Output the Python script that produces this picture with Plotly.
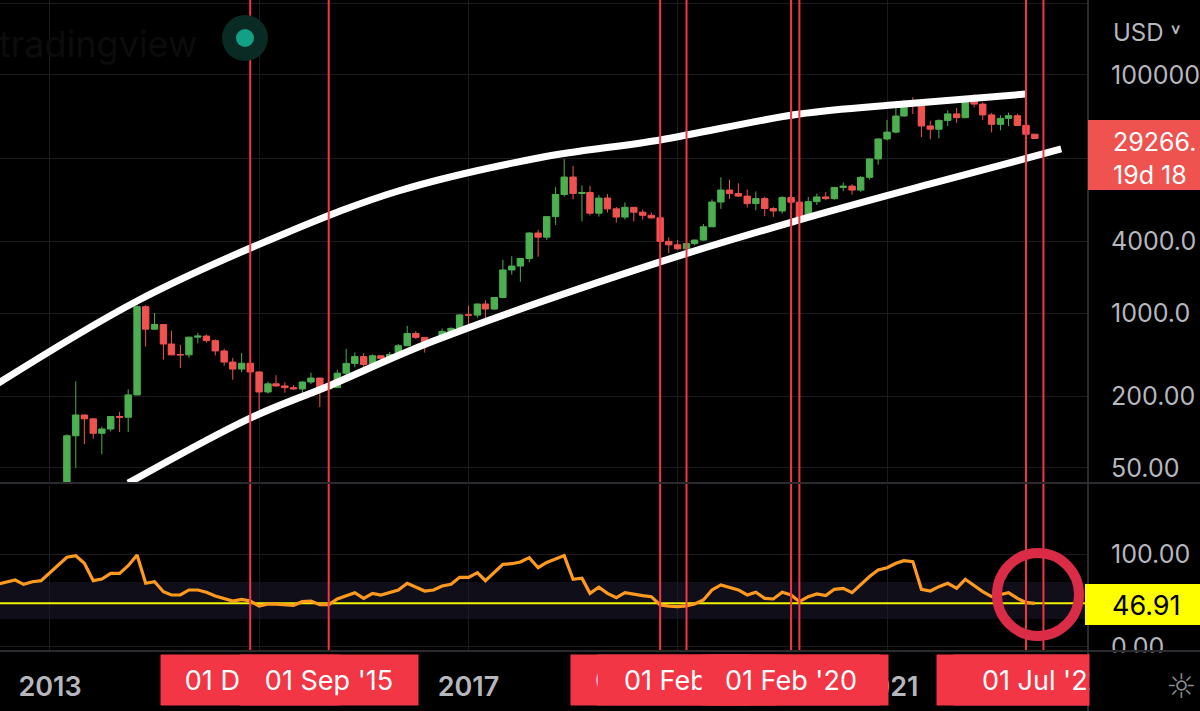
import plotly.graph_objects as go
import pandas as pd

# ---------------- data (monthly BTC/USD) ----------------
months = pd.date_range("2012-07-01", "2022-06-01", freq="MS").strftime("%Y-%m-%d").tolist()

opens = [6.65, 9.35, 10.15, 12.4, 11.2, 12.55,
         13.5, 20.4, 33.4, 93.0, 139, 129, 97.5, 106, 135, 133, 205, 1130,
         732, 800, 549, 448, 445, 627, 640, 586, 480, 387, 338, 378,
         320, 217, 254, 244, 236, 230, 263, 284, 230, 236, 312, 377,
         430, 369, 437, 416, 448, 531, 673, 624, 573, 608, 700, 743,
         964, 960, 1190, 1080, 1350, 2300, 2480, 2870, 4700, 4340, 6450, 9900,
         13880, 10100, 10300, 6900, 9240, 7500, 6400, 7730, 7030, 6620, 6300, 4000,
         3740, 3460, 3830, 4100, 5300, 8560, 10800, 10080, 9600, 8300, 9150, 7550,
         7200, 9350, 8540, 6400, 8630, 9450, 9140, 11350, 11650, 10780, 13800, 19700,
         28990, 33110, 45200, 58800, 57700, 37300, 35000, 41500, 47100, 43800, 61300, 56900,
         46200, 38500, 43200, 45500, 37700, 31800]
highs = [9.65, 15.4, 12.95, 12.95, 12.6, 13.9,
         20.9, 33.5, 95.7, 266, 139.9, 129.5, 111, 136, 148, 228, 1163, 1163,
         1000, 810, 710, 540, 630, 680, 660, 600, 500, 420, 460, 380,
         320, 265, 300, 262, 248, 268, 315, 285, 245, 334, 500, 465,
         460, 448, 440, 470, 550, 780, 704, 626, 628, 740, 756, 980,
         1150, 1200, 1280, 1350, 2800, 3000, 2900, 4760, 5000, 6470, 11400, 19670,
         17200, 11800, 11700, 9800, 10000, 7780, 8500, 7750, 7400, 7000, 6550, 4320,
         4100, 4200, 4140, 5600, 9000, 13800, 13200, 12300, 10900, 10500, 9500, 7750,
         9580, 10500, 9200, 9450, 10080, 10400, 11450, 12480, 12080, 14100, 19850, 29300,
         41950, 58350, 61780, 64900, 59600, 41300, 42400, 50500, 52900, 67000, 69000, 59000,
         47900, 45800, 48200, 47400, 40000, 31900]
lows = [6.6, 7.1, 9.95, 9.85, 10.0, 12.3,
        13.2, 19.1, 33.1, 50, 79, 88, 65, 101, 100, 100, 203, 522,
        725, 405, 442, 345, 420, 555, 565, 440, 360, 275, 318, 310,
        152, 210, 240, 214, 228, 208, 253, 162, 225, 235, 300, 350,
        350, 365, 400, 412, 436, 525, 606, 465, 570, 604, 680, 740,
        750, 915, 890, 1060, 1330, 2100, 1830, 2670, 2970, 4110, 5500, 9500,
        9000, 5900, 6600, 6450, 7000, 5760, 6100, 5880, 6100, 6200, 3500, 3200,
        3400, 3400, 3700, 4050, 5300, 7500, 9100, 9400, 7700, 7300, 6500, 6430,
        6850, 8450, 3850, 6150, 8100, 8850, 8950, 10550, 9880, 10400, 13200, 17600,
        28130, 32300, 45000, 47000, 30000, 28800, 29300, 37300, 39600, 43300, 53400, 42000,
        32900, 34300, 37200, 37700, 26700, 28900]
closes = [9.35, 10.15, 12.4, 11.2, 12.55, 13.5,
          20.4, 33.4, 93.0, 139, 129, 97.5, 106, 135, 133, 205, 1130, 732,
          800, 549, 445, 445, 627, 640, 586, 480, 387, 338, 378, 320,
          217, 254, 244, 236, 230, 263, 284, 230, 236, 312, 377, 430,
          369, 437, 416, 448, 531, 673, 624, 573, 608, 700, 743, 964,
          960, 1190, 1080, 1350, 2300, 2480, 2870, 4700, 4340, 6450, 9900, 13880,
          10100, 10300, 6900, 9240, 7500, 6400, 7730, 7030, 6620, 6300, 4000, 3740,
          3460, 3830, 4100, 5300, 8560, 10800, 10080, 9600, 8300, 9150, 7550, 7200,
          9350, 8540, 6400, 8630, 9450, 9140, 11350, 11650, 10780, 13800, 19700, 28990,
          33110, 45200, 58800, 57700, 37300, 35000, 41500, 47100, 43800, 61300, 56900, 46200,
          38500, 43200, 45500, 37700, 31800, 29266]

rsi = [67.5, 70.0, 72.0, 67.4, 70.2, 71.3,
       80.0, 87.6, 96.5, 98.2, 90.0, 71.3, 73.1, 79.2, 79.2, 87.4, 99.0, 68.5,
       70.2, 59.4, 55.9, 55.9, 61.3, 61.3, 58.8, 54.8, 51.6, 49.4, 51.2, 49.4,
       44.0, 46.2, 46.0, 45.2, 44.8, 48.7, 49.4, 45.5, 45.5, 51.6, 55.0, 58.4,
       52.3, 57.7, 55.9, 58.4, 61.3, 68.5, 64.2, 60.2, 61.3, 65.6, 67.4, 74.9,
       74.9, 80.0, 71.3, 80.0, 88.9, 89.6, 91.4, 96.1, 85.3, 91.0, 94.5, 98.3,
       72.8, 73.9, 57.7, 64.2, 57.7, 53.1, 58.4, 56.6, 55.3, 54.1, 45.2, 44.0,
       43.4, 44.1, 46.2, 50.5, 61.3, 66.7, 64.2, 61.3, 55.9, 58.8, 52.3, 51.6,
       58.8, 55.9, 48.7, 54.1, 57.0, 55.2, 62.0, 63.1, 58.4, 66.7, 75.7, 82.8,
       85.3, 90.0, 92.9, 91.8, 62.0, 60.2, 64.9, 68.5, 63.1, 72.8, 66.0, 59.5,
       54.1, 56.0, 58.4, 52.3, 48.0, 46.91]

# hand-drawn channel (date, price)
upper_dates = ["2012-05-01", "2013-11-01", "2015-04-01", "2016-05-01", "2017-09-01",
               "2018-11-01", "2020-03-01", "2021-03-01", "2022-05-01"]
upper_prices = [205, 1262, 4656, 10600, 20070, 28460, 46980, 57020, 69220]
lower_dates = ["2013-10-01", "2014-12-01", "2015-09-01", "2016-09-01", "2018-11-01",
               "2020-03-01", "2021-06-01", "2022-09-01"]
lower_prices = [37.2, 131, 244, 582, 2687, 6050, 12140, 23890]

# vertical markers and their time-axis labels (drawing order = stacking order)
event_dates = ["2014-12-01", "2015-09-01", "2018-11-01", "2019-02-01",
               "2020-03-01", "2020-02-01", "2022-05-01", "2022-07-01"]
event_labels = ["01 Dec '14", "01 Sep '15", "01 Nov '18", "01 Feb '19",
                "01 Mar '20", "01 Feb '20", "01 May '22", "01 Jul '22"]

year_ticks = ["2013-01-01", "2015-01-01", "2017-01-01", "2019-01-01", "2021-01-01"]
year_labels = ["2013", "2015", "2017", "2019", "2021"]

# right-hand price scale (labels are cut by the screen edge in the original)
price_ticks = [50, 200, 1000, 4000, 20000, 100000, 400000]
price_labels = ["50.00", "200.00", "1000.0", "4000.0", "20000.", "100000", ""]

last_price_text = "29266.<br>19d 18"

# ---------------- styling ----------------
W, H = 1200, 711
XD = 1088 / W
def px(x): return x / W
def py(y): return 1 - y / H

GREEN = "#4caf50"
RED = "#ef5350"
GRID = "#1c1c20"
AXTXT = "#b6b7bd"
FONT = "Inter"

fig = go.Figure()

fig.add_trace(go.Candlestick(
    x=months, open=opens, high=highs, low=lows, close=closes,
    increasing=dict(line=dict(color=GREEN, width=1), fillcolor=GREEN),
    decreasing=dict(line=dict(color=RED, width=1), fillcolor=RED),
    whiskerwidth=0, showlegend=False, hoverinfo="skip", xaxis="x", yaxis="y"))

for dts, prs in ((upper_dates, upper_prices), (lower_dates, lower_prices)):
    fig.add_trace(go.Scatter(x=dts, y=prs, mode="lines",
                             line=dict(color="white", width=7, shape="spline", smoothing=1.0),
                             showlegend=False, hoverinfo="skip", xaxis="x", yaxis="y"))

x_start, x_end = "2012-07-10 12:00", "2022-12-03 12:00"

fig.add_trace(go.Scatter(x=[x_start, x_end], y=[rsi[-1], rsi[-1]], mode="lines",
                         line=dict(color="#f2f200", width=2), showlegend=False,
                         hoverinfo="skip", xaxis="x2", yaxis="y2"))
fig.add_trace(go.Scatter(x=months, y=rsi, mode="lines",
                         line=dict(color="#ff9a1f", width=3.2), showlegend=False,
                         hoverinfo="skip", xaxis="x2", yaxis="y2"))

shapes = []
shapes.append(dict(type="rect", xref="paper", yref="y2", x0=0, x1=XD, y0=30, y1=70,
                   fillcolor="#100e19", line=dict(width=0), layer="below"))
for d in event_dates:
    shapes.append(dict(type="line", xref="x", yref="paper", x0=d, x1=d, y0=py(651), y1=1,
                       line=dict(color="#f23645", width=2), layer="above"))
sep = "#2a2a2f"
shapes.append(dict(type="line", xref="paper", yref="paper", x0=0, x1=1, y0=py(483), y1=py(483),
                   line=dict(color=sep, width=2), layer="above"))
shapes.append(dict(type="line", xref="paper", yref="paper", x0=0, x1=1, y0=py(651), y1=py(651),
                   line=dict(color=sep, width=2), layer="above"))
shapes.append(dict(type="line", xref="paper", yref="paper", x0=XD, x1=XD, y0=0, y1=1,
                   line=dict(color=sep, width=2), layer="above"))
shapes.append(dict(type="rect", xref="paper", yref="paper", x0=px(1088), x1=1,
                   y0=py(190), y1=py(120), fillcolor=RED, line=dict(width=0), layer="above"))
shapes.append(dict(type="rect", xref="paper", yref="paper", x0=px(1085), x1=1,
                   y0=py(625), y1=py(584), fillcolor="#ffff00", line=dict(width=0), layer="above"))
shapes.append(dict(type="circle", xref="paper", yref="paper", x0=px(997), x1=px(1079),
                   y0=py(636), y1=py(553), line=dict(color="#da2c47", width=10), layer="above"))
shapes.append(dict(type="circle", xref="paper", yref="paper", x0=px(222), x1=px(268),
                   y0=py(61), y1=py(15), fillcolor="#0a2a24", line=dict(width=0), layer="above"))
shapes.append(dict(type="circle", xref="paper", yref="paper", x0=px(236), x1=px(254),
                   y0=py(47), y1=py(29), fillcolor="#14a084", line=dict(width=0), layer="above"))

annotations = []
annotations.append(dict(text="tradingview", x=px(-3), y=py(44), xref="paper", yref="paper",
                        xanchor="left", yanchor="middle", showarrow=False,
                        font=dict(family=FONT, size=36, color="#0c0c0c")))
for d, t in zip(event_dates, event_labels):
    annotations.append(dict(text=t, x=d, xref="x2", y=py(680), yref="paper",
                            xanchor="center", yanchor="middle", showarrow=False,
                            width=170, height=42, borderpad=4, bgcolor="#f23645",
                            font=dict(family=FONT, size=27, color="white")))
annotations.append(dict(text=" ", x=px(1089), y=py(652), xref="paper", yref="paper",
                        xanchor="left", yanchor="top", showarrow=False,
                        width=110, height=58, borderpad=0, bgcolor="black"))
annotations.append(dict(text="☼", x=px(1198), y=py(686), xref="paper", yref="paper",
                        xanchor="right", yanchor="middle", showarrow=False,
                        font=dict(family="DejaVu Sans", size=34, color="#8a8a90")))
annotations.append(dict(text=last_price_text, x=px(1111), y=py(159), xref="paper", yref="paper",
                        xanchor="left", yanchor="middle", align="left", showarrow=False,
                        font=dict(family=FONT, size=25, color="white")))
annotations.append(dict(text=f"{rsi[-1]:.2f}", x=px(1110), y=py(605), xref="paper", yref="paper",
                        xanchor="left", yanchor="middle", showarrow=False,
                        font=dict(family=FONT, size=27, color="black")))
annotations.append(dict(text="USD ˅", x=px(1111), y=py(32), xref="paper", yref="paper",
                        xanchor="left", yanchor="middle", showarrow=False,
                        font=dict(family=FONT, size=24, color=AXTXT)))

fig.update_layout(
    autosize=True,
    margin=dict(l=0, r=0, t=0, b=0, pad=0),
    paper_bgcolor="black", plot_bgcolor="black",
    showlegend=False, hovermode=False, boxgap=0.2, boxgroupgap=0,
    xaxis=dict(domain=[0, XD], range=[x_start, x_end], type="date", anchor="y",
               tickvals=year_ticks, showticklabels=False, showgrid=True, gridcolor=GRID,
               gridwidth=1, zeroline=False, showline=False, rangeslider=dict(visible=False),
               fixedrange=True, automargin=False),
    yaxis=dict(domain=[py(482), 1], type="log", range=[1.580, 5.630], side="right", anchor="x",
               tickvals=price_ticks, ticktext=price_labels, showgrid=True, gridcolor=GRID,
               zeroline=False, showline=False, ticks="", ticklabelstandoff=22,
               tickfont=dict(family=FONT, size=25, color=AXTXT), fixedrange=True,
               automargin=False),
    xaxis2=dict(domain=[0, XD], range=[x_start, x_end], type="date", anchor="y2", matches="x",
                tickvals=year_ticks, ticktext=year_labels, showgrid=True, gridcolor=GRID,
                zeroline=False, showline=False, ticks="", ticklabelstandoff=18,
                tickfont=dict(family=FONT, size=27, color=AXTXT, weight=600), fixedrange=True,
                automargin=False),
    yaxis2=dict(domain=[py(650), py(485)], range=[-3.34, 174.35], side="right", anchor="x2",
                tickvals=[0, 100], ticktext=["0.00", "100.00"], showgrid=True, gridcolor=GRID,
                zeroline=False, showline=False, ticks="", ticklabelstandoff=22,
                tickfont=dict(family=FONT, size=25, color=AXTXT), fixedrange=True,
                automargin=False),
    shapes=shapes, annotations=annotations,
)

# the plot div is pinned to the viewport so page margins cannot add scroll height
fig.write_html("out.html", config={"displayModeBar": False, "responsive": True},
               default_width="100vw; position:fixed; top:0; left:0; overflow:hidden",
               default_height="100vh",
               post_script="document.body.style.background='black';"
                           "document.documentElement.style.overflow='hidden';")
